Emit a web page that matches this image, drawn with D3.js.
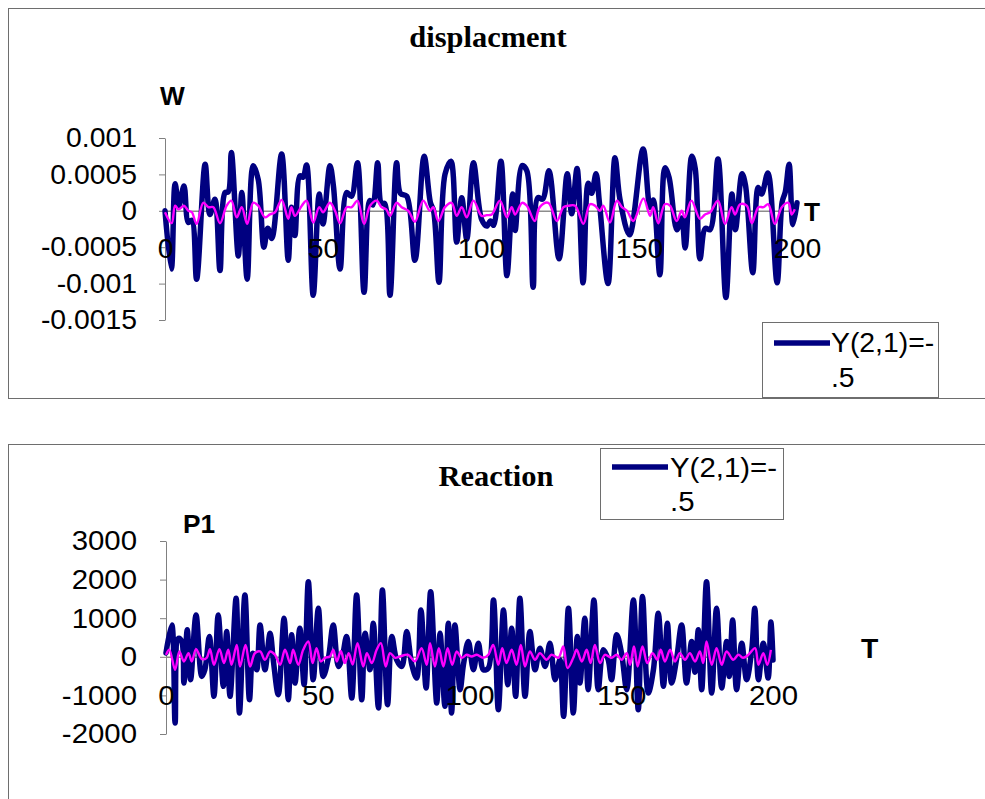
<!DOCTYPE html>
<html>
<head>
<meta charset="utf-8">
<script src="https://cdn.jsdelivr.net/npm/d3@7"></script>
<style>
  body { margin: 0; background: #ffffff; }
  svg { display: block; }
</style>
</head>
<body>
<div id="wrapper"></div>
<script>
// shared tick values / labels
const xTicks = [0, 50, 100, 150, 200]
const legendLines = ['Y(2,1)=-', '.5']

// displacement panel
const dispTicks = [0.001, 0.0005, 0, -0.0005, -0.001, -0.0015]
const dispTickLabels = ['0.001', '0.0005', '0', '-0.0005', '-0.001', '-0.0015']

// Y(2,1)=-.5 (navy)
const dispT1 = [0, 2, 3.2, 4.4, 6, 7.4, 8.5, 10, 12.7, 14.2, 15.8, 17.4, 19, 20, 21, 23.2, 24.3, 26, 27.9, 29.5,
  31.3, 32.5, 33.8, 36.9, 39, 40, 41.1, 42.7, 43.7, 44.8, 46.9, 48.8, 50, 52.2, 53.3, 55.4, 57.5, 59, 60.9, 63,
  64.8, 65.8, 67.3, 68.5, 69.5, 71.2, 73.3, 74.5, 76.5, 79.1, 82, 84, 85, 86.7, 88.6, 90.5, 92.3, 93.9, 95.5, 97.6,
  100.2, 101.8, 103, 104, 106.3, 108.2, 110, 110.8, 113, 114.5, 116.5, 118, 119.5, 121.5, 124.7, 127.3, 128.7, 130.4, 132.3, 133.9,
  135, 136.4, 137.5, 140.2, 142.4, 144, 147, 151.3, 153.5, 154.5, 156.6, 158.2, 159.5, 162, 163.5, 164.6, 166.7, 167.8, 169.3, 171,
  172.5, 175, 177.5, 179.4, 180.5, 182.6, 183.7, 186, 187.7, 188.8, 190.8, 193.7, 195.3, 196.3, 197.5, 198.7, 200]
const dispW1 = [0, -8.0e-4, 3.7e-4, 0.7e-4, 3.4e-4, -1.6e-4, -1.3e-4, -9.4e-4, 6.4e-4, -0.5e-4,
  1.6e-4, -8.2e-4, 2.5e-4, 2.6e-4, 8.0e-4, -6.2e-4, 2.5e-4, -9.4e-4, 6.2e-4, 4.3e-4,
  -5.0e-4, -2.4e-4, -3.8e-4, 7.8e-4, -6.8e-4, 0.5e-4, -3.4e-4, 4.8e-4, 4.6e-4, 6.3e-4,
  -11.6e-4, 2.3e-4, -1.8e-4, 6.2e-4, 3.4e-4, -8.0e-4, 2.5e-4, 2.0e-4, 6.6e-4, -11.2e-4,
  1.4e-4, 0.8e-4, 6.6e-4, 1.0e-4, 1.0e-4, -11.6e-4, 6.6e-4, 2.4e-4, 2.0e-4, -6.8e-4,
  7.5e-4, 1.1e-4, 0, -9.8e-4, 5.0e-4, 6.8e-4, -4.3e-4, 1.8e-4, -3.9e-4, 6.6e-4,
  -1.2e-4, -2.1e-4, -1.4e-4, -2.0e-4, 6.8e-4, -8.9e-4, 2.3e-4, -2.7e-4, 6.2e-4, 5.5e-4,
  -10.5e-4, 1.8e-4, 1.6e-4, 5.5e-4, -6.6e-4, 5.1e-4, -0.4e-4, 5.8e-4, -9.9e-4, 3.8e-4,
  2.4e-4, 5.1e-4, 1.0e-4, -10.0e-4, 7.3e-4, 1.5e-4, -3.3e-4, 8.5e-4, 0.5e-4, 1.5e-4,
  -8.8e-4, 5.9e-4, 4.6e-4, -2.6e-4, -1.0e-4, -5.1e-4, 7.5e-4, 5.8e-4, -6.6e-4, -2.4e-4,
  -2.6e-4, 7.1e-4, -11.9e-4, 2.3e-4, -2.6e-4, 5.1e-4, 3.5e-4, -8.5e-4, 3.2e-4, 2.3e-4,
  5.2e-4, -9.9e-4, 1.2e-4, 2.6e-4, 6.4e-4, -1.9e-4, 1.1e-4]

// second series (magenta)
const dispT2 = [0, 2.1, 3.2, 4.3, 6, 7.4, 8.5, 10, 12.1, 13.7, 15.3, 17.4, 19.5, 21, 22.7, 24.3, 26, 27.9, 29.5, 31.6,
  33.2, 34.8, 36.9, 39, 40, 41.1, 43.3, 44.8, 46.9, 48.8, 50, 52.2, 53.8, 55.4, 57.5, 59.1, 60.9, 63, 64.9, 67,
  68.5, 70, 71.2, 73.3, 74.9, 77, 79.1, 81.7, 83.8, 84.9, 86.5, 88.6, 90.7, 92.3, 93.9, 95.5, 97.6, 100.2, 101.8, 103.4,
  106, 108.2, 109.7, 110.8, 113, 114.5, 117, 118.6, 121.3, 124, 126.1, 127.7, 129.8, 132.4, 134.5, 136.1, 137.6, 138.7, 140.8, 143,
  144.6, 146.2, 148.2, 151.4, 153.5, 154.5, 156.1, 158.2, 159.8, 161.9, 163.5, 164.5, 166.6, 169.3, 170.9, 172.5, 175, 177.2, 179.3, 180.4,
  182, 184.1, 185.7, 187.8, 189.4, 190.9, 193, 195.2, 197.3, 198.3, 199.3]
const dispW2 = [-0.2e-4, -1.7e-4, 0.7e-4, 0.2e-4, 0.7e-4, 0, -0.2e-4, -1.8e-4, 1.1e-4, 0.5e-4,
  0.5e-4, -1.7e-4, 0.7e-4, 1.4e-4, -0.9e-4, 0.5e-4, -1.8e-4, 1.1e-4, 0.7e-4, -0.9e-4,
  -0.5e-4, -0.2e-4, 1.5e-4, -1.1e-4, 0.5e-4, -0.7e-4, 0.7e-4, 1.4e-4, -1.6e-4, 0.5e-4,
  -0.2e-4, 1.1e-4, 0, -1.7e-4, 0.5e-4, 0.5e-4, 1.4e-4, -1.8e-4, 0.7e-4, 1.4e-4,
  0.5e-4, 0.2e-4, -0.7e-4, 1.1e-4, 0.5e-4, 0, -1.5e-4, 1.4e-4, 0, 0.5e-4,
  -1.4e-4, 0.5e-4, 1.1e-4, -0.7e-4, 0.5e-4, -0.9e-4, 1.4e-4, -0.7e-4, -0.6e-4, -0.5e-4,
  1.4e-4, -0.9e-4, 0.5e-4, -0.5e-4, 1.1e-4, 0.7e-4, -1.4e-4, 0.5e-4, 1.1e-4, -1.4e-4,
  0.5e-4, 0.7e-4, 0.7e-4, -1.8e-4, 0.9e-4, 0.7e-4, 0, 0.7e-4, -1.6e-4, 1.4e-4,
  0.5e-4, 0, -1.4e-4, 1.7e-4, -0.7e-4, 0.5e-4, -1.7e-4, 0.9e-4, 0.7e-4, -1.4e-4,
  0, -0.9e-4, 1.4e-4, -1.1e-4, -0.5e-4, -0.2e-4, 1.4e-4, -1.8e-4, 0.5e-4, -0.5e-4,
  0.9e-4, 0.7e-4, -1.7e-4, 0.5e-4, 0.5e-4, 0.9e-4, -1.8e-4, 0.5e-4, 1.1e-4, -0.5e-4, 0.2e-4]

// reaction panel
const reacTicks = [3000, 2000, 1000, 0, -1000, -2000]
const reacTickLabels = ['3000', '2000', '1000', '0', '-1000', '-2000']

const reacT1 = [0, 1.9, 3.0, 4.1, 5.2, 5.9, 7.0, 8.1, 9.9, 11.8, 12.8, 14.3, 15.8, 17.2, 18.9, 20.0, 21.1, 23.1, 24.2, 26.0,
  27.5, 28.6, 29.9, 31.0, 32.6, 34.3, 35.4, 37.0, 38.9, 40.3, 41.4, 42.5, 44.1, 45.5, 46.9, 48.5, 50.2, 51.8, 53.5, 55.1,
  56.8, 57.9, 59.5, 61.2, 62.8, 64.5, 65.6, 67.2, 68.3, 70.0, 71.3, 73.0, 74.4, 76.0, 77.7, 79.3, 81.0, 82.6, 84.0, 85.7,
  87.2, 89.2, 90.3, 91.9, 93.0, 94.1, 95.2, 96.9, 98.0, 99.6, 101.3, 102.9, 104.6, 106.2, 107.9, 109.5, 111.2, 112.6, 113.9, 115.2,
  116.6, 118.3, 119.9, 121.6, 123.2, 124.9, 126.5, 128.2, 129.8, 131.0, 132.6, 134.2, 135.5, 136.4, 138.0, 139.1, 141.0, 142.4, 144.1, 145.7,
  146.8, 148.5, 150.1, 151.8, 154.0, 155.6, 157.0, 158.9, 160.6, 162.2, 163.9, 165.2, 166.6, 168.2, 169.9, 171.5, 173.2, 174.3, 175.4, 176.5,
  178.1, 179.8, 181.4, 183.1, 184.7, 185.6, 186.7, 188.0, 189.7, 191.3, 193.0, 194.0, 195.2, 196.8, 198.4, 199.3, 200]
const reacP1 = [100, 827, -1714, 480, 396, -680, 698, -594, 1085, -508,
  -336, 525, -1025, 1085, -766, 655, -1025, 1516, -1455, 1602,
  -1111, 95, -336, 827, -336, 612, -120, -982, 999, -1111,
  569, -680, 741, -723, 1946, -594, 1257, -508, -35, 827,
  -250, -77, 525, -1068, 1602, -1111, 612, -336, 869, -1326,
  1731, -1240, 525, -77, -250, 655, -206, -551, 1214, -809,
  1688, -1197, 612, -1283, 869, -1455, 827, -852, -206, 396,
  -336, 353, -336, -293, 1473, -1369, 1214, -723, 741, -1025,
  1516, -1025, 655, -336, 224, -250, 353, -594, -77, -1541,
  1260, -1455, 525, -680, 999, -852, 1473, -852, 181, -77,
  -594, 569, 95, -852, 1473, -1369, 1559, -939, -336, 1128,
  -766, 869, -680, -77, 827, -680, 396, -400, 698, -852,
  1946, -939, 1257, -809, 396, -508, 956, -852, 353, -594,
  181, 1257, -594, 353, -551, 900, -80]

const reacT2 = [0, 1.1, 3.0, 4.4, 5.9, 7.4, 8.5, 9.9, 11.8, 13.4, 14.5, 15.8, 17.6, 19.1, 20.5, 21.6, 23.3, 24.4, 26.2, 27.7,
  29.3, 31.0, 32.6, 34.3, 35.9, 37.6, 39.2, 40.9, 41.9, 43.6, 45.2, 46.9, 48.3, 49.6, 51.0, 52.4, 54.0, 55.1, 56.3, 57.6,
  58.9, 60.2, 61.5, 63.1, 65.0, 66.2, 67.8, 69.4, 70.8, 72.4, 73.8, 75.5, 77.1, 79.8, 82.0, 84.2, 85.9, 87.0, 88.6, 89.9,
  91.4, 92.8, 94.3, 95.8, 97.4, 99.1, 100.7, 102.4, 104.5, 106.2, 107.8, 109.5, 110.8, 112.2, 113.9, 115.5, 116.9, 118.3, 119.9, 121.6,
  123.2, 125.4, 127.0, 129.3, 130.9, 132.3, 134.2, 135.3, 137.0, 138.6, 139.9, 141.3, 143.0, 144.6, 146.8, 148.5, 150.1, 151.8, 152.9, 154.2,
  155.4, 157.0, 158.6, 160.3, 161.9, 163.0, 164.4, 166.1, 167.7, 169.3, 171.0, 172.6, 174.3, 175.9, 177.0, 178.1, 179.8, 181.4, 183.1, 184.7,
  186.9, 188.6, 190.2, 191.9, 194.1, 195.2, 196.8, 198.1, 199.3]
const reacP2 = [50, 181, -336, 138, -120, 95, -120, 198, -60, -26,
  198, -206, 198, -163, 181, -206, 310, -250, 310, -250,
  95, 138, -77, 138, 52, -206, 181, -163, 181, -206,
  181, 396, -163, 224, -120, -26, 9, 181, -120, 150,
  -163, 95, -200, 353, -250, 95, -163, 181, 353, -250,
  95, -26, 9, 52, -120, 224, -206, 353, -250, 224,
  -250, 224, -206, 138, -26, 52, 9, 52, -26, 52,
  310, -206, 224, -163, 181, -206, 310, -250, 138, -77,
  95, -77, 52, -26, 267, -293, -26, 181, -120, 181,
  -163, 310, -163, 52, -26, 52, -77, 95, -206, 267,
  -250, 267, -163, 95, -77, 181, -120, 181, -120, 95,
  -77, 95, -120, 138, -163, 396, -206, 224, -206, 138,
  -77, 52, -26, 52, 224, -206, 95, -206, 181]

// layout
const dimensions = { width: 985, height: 799 }
const stretch = 1.05 // text in the source is slightly wide
const sansFont = '"Liberation Sans", Arial, sans-serif'
const serifFont = '"Liberation Serif", "Times New Roman", serif'

const wrapper = d3
  .select('#wrapper')
  .append('svg')
  .attr('width', dimensions.width)
  .attr('height', dimensions.height)
  .style('background', '#ffffff')

function placeText(sel, x, y) {
  sel.attr('transform', `translate(${x},${y}) scale(${stretch},1)`)
}

function drawPanel(p) {
  const g = wrapper.append('g')

  // chart area frame
  g.append('rect')
    .attr('x', p.frame[0])
    .attr('y', p.frame[1])
    .attr('width', p.frame[2])
    .attr('height', p.frame[3])
    .attr('fill', 'none')
    .attr('stroke', '#6e6e6e')
    .attr('stroke-width', 1)

  const xScale = d3.scaleLinear().domain([0, 200]).range(p.xRange)
  const yScale = d3.scaleLinear().domain(p.yDomain).range(p.yRange)

  // y axis
  const yAxis = g
    .append('g')
    .attr('transform', `translate(${p.xRange[0]},0)`)
    .call(
      d3
        .axisLeft(yScale)
        .tickValues(p.yTicks)
        .tickFormat((d) => p.yTickLabels[p.yTicks.indexOf(d)])
        .tickSize(6)
        .tickSizeOuter(0)
    )
  yAxis.select('.domain').attr('stroke', '#808080')
  yAxis.selectAll('.tick line').attr('stroke', '#808080')
  yAxis
    .selectAll('.tick text')
    .attr('x', -p.labelGap / stretch)
    .attr('transform', `scale(${stretch},1)`)
    .attr('font-family', sansFont)
    .attr('font-size', p.tickFont)
    .attr('fill', '#000')

  // x axis line through zero
  const xAxis = g
    .append('g')
    .attr('transform', `translate(0,${yScale(0)})`)
    .call(d3.axisBottom(xScale).tickValues(xTicks).tickSize(4).tickSizeOuter(0).tickFormat(''))
  xAxis.select('.domain').attr('stroke', '#8c8c8c').attr('stroke-width', 1.6)
  xAxis.selectAll('.tick line').attr('stroke', '#8c8c8c')

  // series
  const line = d3
    .line()
    .x((d) => xScale(d[0]))
    .y((d) => yScale(d[1]))
    .curve(d3.curveCatmullRom.alpha(0.5))

  g.append('path')
    .datum(d3.zip(p.t1, p.v1))
    .attr('fill', 'none')
    .attr('stroke', '#000080')
    .attr('stroke-width', 5.5)
    .attr('stroke-linejoin', 'round')
    .attr('stroke-linecap', 'round')
    .attr('d', line)

  g.append('path')
    .datum(d3.zip(p.t2, p.v2))
    .attr('fill', 'none')
    .attr('stroke', '#ff00ff')
    .attr('stroke-width', 2.4)
    .attr('stroke-linejoin', 'round')
    .attr('d', line)

  // x tick labels sit on top of the lines
  const xLabels = g
    .append('g')
    .attr('transform', `translate(0,${yScale(0)})`)
    .call(d3.axisBottom(xScale).tickValues(xTicks).tickSize(0))
  xLabels.select('.domain').remove()
  xLabels
    .selectAll('.tick text')
    .attr('y', 0)
    .attr('dy', null)
    .attr('transform', `translate(0,${p.xLabelDrop}) scale(${stretch},1)`)
    .attr('font-family', sansFont)
    .attr('font-size', p.tickFont)
    .attr('fill', '#000')

  // title
  g.append('text')
    .text(p.title)
    .attr('text-anchor', 'middle')
    .attr('font-family', serifFont)
    .attr('font-weight', 'bold')
    .attr('font-size', 29)
    .call(placeText, p.titlePos[0], p.titlePos[1])

  // axis names
  g.append('text')
    .text(p.yName)
    .attr('font-family', sansFont)
    .attr('font-weight', 'bold')
    .attr('font-size', 25)
    .call(placeText, p.yNamePos[0], p.yNamePos[1])

  g.append('text')
    .text('T')
    .attr('font-family', sansFont)
    .attr('font-weight', 'bold')
    .attr('font-size', p.tNameFont)
    .call(placeText, p.tNamePos[0], p.tNamePos[1])

  // legend
  const lg = p.legend
  g.append('rect')
    .attr('x', lg.x)
    .attr('y', lg.y)
    .attr('width', lg.w)
    .attr('height', lg.h)
    .attr('fill', '#ffffff')
    .attr('stroke', '#6e6e6e')
  g.append('line')
    .attr('x1', lg.lineX[0])
    .attr('x2', lg.lineX[1])
    .attr('y1', lg.lineY)
    .attr('y2', lg.lineY)
    .attr('stroke', '#000080')
    .attr('stroke-width', 5.5)
  legendLines.forEach((txt, i) => {
    g.append('text')
      .text(txt)
      .attr('font-family', sansFont)
      .attr('font-size', p.tickFont)
      .call(placeText, lg.textX, lg.textY[i])
  })
}

drawPanel({
  frame: [8.5, 8.5, 990, 390],
  xRange: [165, 797],
  yDomain: [-0.0015, 0.001],
  yRange: [320, 138],
  yTicks: dispTicks,
  yTickLabels: dispTickLabels,
  labelGap: 28,
  tickFont: 27,
  xLabelDrop: 47,
  t1: dispT1, v1: dispW1,
  t2: dispT2, v2: dispW2,
  title: 'displacment',
  titlePos: [488, 47],
  yName: 'W',
  yNamePos: [160, 105],
  tNameFont: 25,
  tNamePos: [804, 221],
  legend: { x: 762.5, y: 322.5, w: 176, h: 75, lineX: [774, 830], lineY: 343, textX: 831, textY: [352, 387] },
})

drawPanel({
  frame: [8.5, 444.5, 990, 400],
  xRange: [166, 773],
  yDomain: [-2000, 3000],
  yRange: [734, 541],
  yTicks: reacTicks,
  yTickLabels: reacTickLabels,
  labelGap: 29,
  tickFont: 28,
  xLabelDrop: 48,
  t1: reacT1, v1: reacP1,
  t2: reacT2, v2: reacP2,
  title: 'Reaction',
  titlePos: [496, 486],
  yName: 'P1',
  yNamePos: [183, 533],
  tNameFont: 27,
  tNamePos: [861, 658],
  legend: { x: 600.5, y: 448.5, w: 183, h: 71, lineX: [612, 668], lineY: 467, textX: 670, textY: [477, 511] },
})
</script>
</body>
</html>
